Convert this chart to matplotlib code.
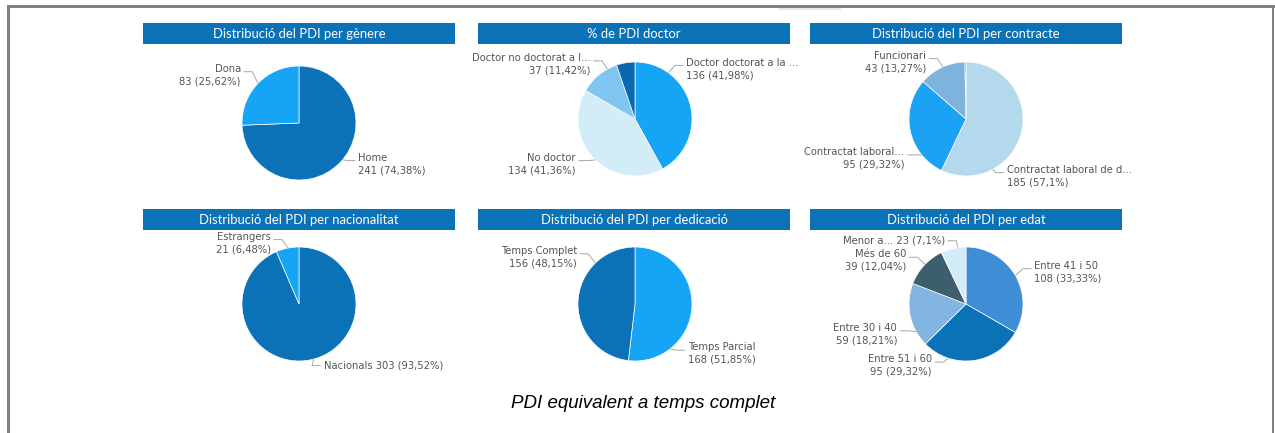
import numpy as np
import matplotlib
matplotlib.use("Agg")
import matplotlib.pyplot as plt
from matplotlib.patches import Rectangle
from matplotlib.lines import Line2D

# --- data -------------------------------------------------------------
genere_labels = ["Home", "Dona"]
genere_vals = [241, 83]

doctor_labels = ["Doctor doctorat a la ...", "No doctor", "Doctor no doctorat a l...", ""]
doctor_vals = [136, 134, 37, 17]

contracte_labels = ["Contractat laboral de d...", "Contractat laboral...", "Funcionari", ""]
contracte_vals = [185, 95, 43, 1]

nacionalitat_labels = ["Nacionals", "Estrangers"]
nacionalitat_vals = [303, 21]

dedicacio_labels = ["Temps Parcial", "Temps Complet"]
dedicacio_vals = [168, 156]

edat_labels = ["Entre 41 i 50", "Entre 51 i 60", "Entre 30 i 40", "Més de 60", "Menor a..."]
edat_vals = [108, 95, 59, 39, 23]

titles = [
    "Distribució del PDI per gènere",
    "% de PDI doctor",
    "Distribució del PDI per contracte",
    "Distribució del PDI per nacionalitat",
    "Distribució del PDI per dedicació",
    "Distribució del PDI per edat",
]
caption = "PDI equivalent a temps complet"

# --- styling ----------------------------------------------------------
DARK = "#0B72B8"
BRIGHT = "#16A4F4"
colors = [
    [DARK, BRIGHT],
    [BRIGHT, "#D2ECF8", "#7EC5F1", "#0A69AD"],
    ["#B4D9EC", "#1BA2F5", "#7EB3DE", "#0A69AD"],
    [DARK, BRIGHT],
    [BRIGHT, DARK],
    ["#3F8ED5", "#0B72B8", "#82B5E1", "#3D5E6D", "#D4ECF8"],
]

# label placement per pie: (x, y, ha, leader angle, one line), in pie radii
placements = [
    [(1.04, -0.72, "left", 130, False), (-1.02, 0.84, "right", 314, False)],
    [(0.90, 0.88, "left", 36, False), (-1.04, -0.79, "right", 224, False),
     (-0.78, 0.96, "right", 331, False), None],
    [(0.72, -1.0, "left", 152, False), (-1.08, -0.69, "right", 231, False),
     (-0.70, 1.00, "right", 336, False), None],
    [(0.43, -1.08, "left", 165, True), (-0.50, 1.07, "right", 349, False)],
    [(0.93, -0.87, "left", 142, False), (-1.02, 0.82, "right", 316, False)],
    [(1.20, 0.56, "left", 60, False), (-0.60, -1.08, "right", 198, False),
     (-1.21, -0.53, "right", 241, False), (-1.05, 0.76, "right", 314, False),
     (-0.37, 1.11, "right", 352, True)],
]

W, H = 1275, 433
R = 57
centers = [(299, 123), (635, 119), (966, 119), (299, 304), (635, 304), (966, 304)]
bars = [(143, 23), (478, 23), (810, 23), (143, 209), (478, 209), (810, 209)]
BAR_W, BAR_H = 312, 21

LABEL_FONT = "DejaVu Sans"
TEXT_GREY = "#555555"
LINE_GREY = "#A6A6A6"


def fmt_pct(v, total):
    p = round(100.0 * v / total, 2)
    s = f"{p:.2f}".rstrip("0").rstrip(".")
    return s.replace(".", ",") + "%"


fig = plt.figure(figsize=(W / 100, H / 100), dpi=100)
fig.patch.set_facecolor("white")

# outer frame (left, top, right)
fig.add_artist(Rectangle((7 / W, 0), 3 / W, (H - 5) / H, transform=fig.transFigure,
                         facecolor="#808080", edgecolor="none"))
fig.add_artist(Rectangle((7 / W, (H - 8) / H), (1275 - 7) / W, 3 / H, transform=fig.transFigure,
                         facecolor="#808080", edgecolor="none"))
fig.add_artist(Rectangle((1272 / W, 0), 2 / W, (H - 5) / H, transform=fig.transFigure,
                         facecolor="#808080", edgecolor="none"))
fig.add_artist(Line2D([780 / W, 840 / W], [(H - 9) / H] * 2, transform=fig.transFigure,
                      color="#D6E6F0", lw=1.2))

# title bars
for (bx, by), title in zip(bars, titles):
    fig.add_artist(Rectangle((bx / W, (H - by - BAR_H) / H), BAR_W / W, BAR_H / H,
                             transform=fig.transFigure, facecolor="#0B72B8", edgecolor="none"))
    fig.text((bx + BAR_W / 2) / W, (H - by - BAR_H / 2 - 0.5) / H, title,
             ha="center", va="center", color="white", fontsize=9.4, family="Lato")

all_labels = [genere_labels, doctor_labels, contracte_labels,
              nacionalitat_labels, dedicacio_labels, edat_labels]
all_vals = [genere_vals, doctor_vals, contracte_vals,
            nacionalitat_vals, dedicacio_vals, edat_vals]

XU, YU = 3.3, 1.5  # axes half-extent in radii
for (cx, cy), labels, vals, cols, places in zip(centers, all_labels, all_vals, colors, placements):
    ax = fig.add_axes([(cx - XU * R) / W, (H - cy - YU * R) / H, 2 * XU * R / W, 2 * YU * R / H])
    ax.axis("off")
    ax.pie(vals, colors=cols, startangle=90, counterclock=False, radius=1,
           wedgeprops=dict(edgecolor="white", linewidth=0.5))
    ax.set_xlim(-XU, XU)
    ax.set_ylim(-YU, YU)
    ax.set_aspect("auto")
    total = sum(vals)
    for lab, v, pl in zip(labels, vals, places):
        if pl is None:
            continue
        tx, ty, ha, theta, oneline = pl
        sep = " " if oneline else "\n"
        txt = f"{lab}{sep}{v} ({fmt_pct(v, total)})"
        ax.text(tx, ty, txt, ha=ha, va="center", fontsize=7.2, color=TEXT_GREY,
                family=LABEL_FONT, linespacing=1.3, multialignment=ha)
        s = 1 if ha == "left" else -1
        t = np.radians(theta)
        ex, ey = np.sin(t), np.cos(t)
        ly = ty + (0.06 if not oneline else 0.0)
        ax.plot([ex, tx - s * 0.2, tx - s * 0.05], [ey, ly, ly],
                color=LINE_GREY, lw=0.7, solid_capstyle="butt")

fig.text(643 / W, (H - 404) / H, caption, ha="center", va="center",
         fontsize=13.5, style="italic", family="Liberation Sans", color="black")

fig.savefig("out.png", dpi=100, facecolor="white")
